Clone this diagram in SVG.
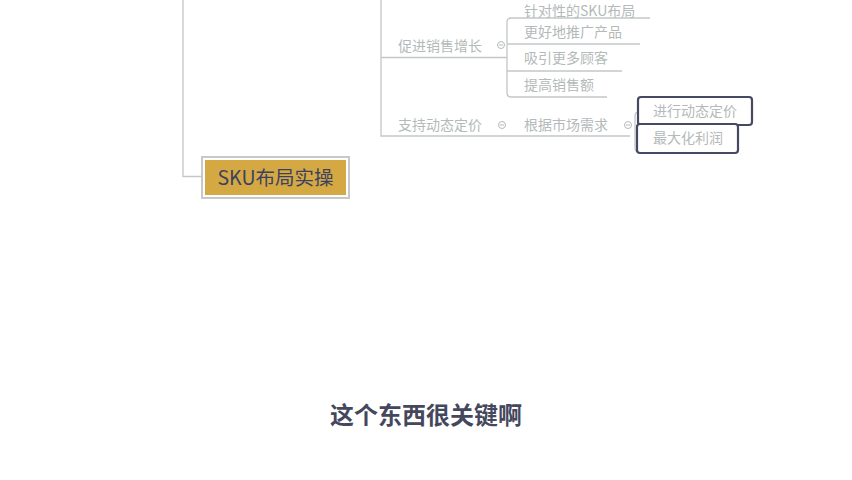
<svg xmlns="http://www.w3.org/2000/svg" width="852" height="480" viewBox="0 0 852 480">
<style>
.ln{fill:none;stroke:#c3c7c7;stroke-width:1.3}
.t{font-family:"Noto Sans CJK SC","Liberation Sans",sans-serif;font-size:14px;fill:#b4b9b9}
.c{fill:#fff;stroke:#b4b9b9;stroke-width:1}
.box{fill:#fff;stroke:#454a62;stroke-width:2.2}
</style>
<rect width="852" height="480" fill="#fff"/>
<g id="connectors">
<path class="ln" d="M183,0 V176.5 H203"/>
<path class="ln" d="M381,0 V136 H630"/>
<path class="ln" d="M381,57.5 H507"/>
<path class="ln" d="M650,18 H511 Q507,18 507,22 V93 Q507,97 511,97 H607"/>
<path class="ln" d="M507,44 H640"/>
<path class="ln" d="M507,71 H622"/>
<path class="ln" d="M639,112 Q635,112 635,116 V148 Q635,152 639,152"/>
<circle class="c" cx="501" cy="45" r="3.5"/><path d="M499,45H503" stroke="#b4b9b9"/>
<circle class="c" cx="502" cy="125" r="3.5"/><path d="M500,125H504" stroke="#b4b9b9"/>
<circle class="c" cx="628" cy="125" r="3.5"/><path d="M626,125H630" stroke="#b4b9b9"/>
</g>
<g id="root">
<rect x="202" y="157" width="147" height="41" fill="#fff" stroke="#c5c9c9" stroke-width="2"/>
<rect x="205" y="160" width="141" height="35" fill="#d4a944"/>
<text x="275.5" y="185" text-anchor="middle" font-family="Noto Sans CJK SC,Liberation Sans,sans-serif" font-size="19.5" fill="#3d4160">SKU布局实操</text>
</g>
<g id="n1"><text class="t" x="398" y="51">促进销售增长</text></g>
<g id="n2"><text class="t" x="398" y="130">支持动态定价</text></g>
<g id="n3"><text class="t" x="524" y="15.5" font-size="12.5">针对性的SKU布局</text></g>
<g id="n4"><text class="t" x="524" y="37">更好地推广产品</text></g>
<g id="n5"><text class="t" x="524" y="63">吸引更多顾客</text></g>
<g id="n6"><text class="t" x="524" y="90">提高销售额</text></g>
<g id="n7"><text class="t" x="524" y="130">根据市场需求</text></g>
<g id="n8">
<rect class="box" x="638" y="97" width="114" height="28" rx="3"/>
<text class="t" x="695" y="116" text-anchor="middle">进行动态定价</text>
</g>
<g id="n9">
<rect class="box" x="637" y="124" width="101" height="29" rx="3"/>
<text class="t" x="688" y="143" text-anchor="middle" fill="#9a9fa8">最大化利润</text>
</g>
<text x="426" y="424" text-anchor="middle" font-family="Noto Sans CJK SC,Liberation Sans,sans-serif" font-size="24" font-weight="bold" fill="#45485d">这个东西很关键啊</text>
</svg>
